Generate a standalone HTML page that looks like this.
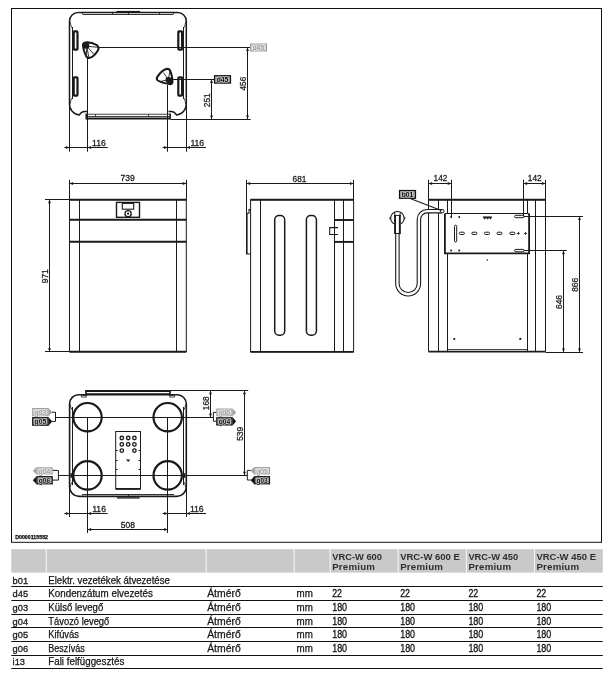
<!DOCTYPE html>
<html lang="hu">
<head>
<meta charset="utf-8">
<title>VRC-W Premium – méretek</title>
<style>
html,body{margin:0;padding:0;background:#fff;}
body{width:614px;height:680px;overflow:hidden;font-family:"Liberation Sans",sans-serif;}
svg{display:block;font-family:"Liberation Sans",sans-serif;will-change:transform;opacity:0.999;}
svg text{white-space:pre;}
</style>
</head>
<body>
<svg width="614" height="680" viewBox="0 0 614 680">
<rect x="0" y="0" width="614" height="680" fill="#fff"/>
<rect x="11.5" y="8.5" width="590" height="533.8" stroke="#111" stroke-width="1.0" fill="none" />
<path d="M78.3 12.4 H177.5 A8.8 8.8 0 0 1 186.3 21.2 V103.5 A11 11 0 0 1 176.5 115.0 Q174.5 111.4 171 111.5 H168.5" stroke="#1a1a1a" stroke-width="1.5" fill="none" />
<path d="M78.3 12.4 A8.8 8.8 0 0 0 69.5 21.2 V103.5 A11 11 0 0 0 79.3 115.0 Q81.3 111.4 84.8 111.5 H87.3" stroke="#1a1a1a" stroke-width="1.5" fill="none" />
<line x1="72.5" y1="27" x2="72.5" y2="99" stroke="#1a1a1a" stroke-width="1.0" />
<line x1="183.5" y1="27" x2="183.5" y2="99" stroke="#1a1a1a" stroke-width="1.0" />
<path d="M70 21.5 Q70.6 26 72.6 28.8" stroke="#1a1a1a" stroke-width="0.8" fill="none" />
<path d="M185.8 21.5 Q185.2 26 183.3 28.8" stroke="#1a1a1a" stroke-width="0.8" fill="none" />
<path d="M70 104 Q70.6 100 72.6 97.2" stroke="#1a1a1a" stroke-width="0.8" fill="none" />
<path d="M185.8 104 Q185.2 100 183.3 97.2" stroke="#1a1a1a" stroke-width="0.8" fill="none" />
<line x1="83" y1="14.5" x2="173" y2="14.5" stroke="#1a1a1a" stroke-width="0.9" />
<line x1="116.5" y1="11.5" x2="140" y2="11.5" stroke="#1a1a1a" stroke-width="1.2" />
<line x1="82.5" y1="12.4" x2="82.5" y2="14.4" stroke="#1a1a1a" stroke-width="0.9" />
<line x1="112.5" y1="12.4" x2="112.5" y2="14.4" stroke="#1a1a1a" stroke-width="0.9" />
<line x1="128.5" y1="12.4" x2="128.5" y2="14.4" stroke="#1a1a1a" stroke-width="0.9" />
<line x1="159.5" y1="12.4" x2="159.5" y2="14.4" stroke="#1a1a1a" stroke-width="0.9" />
<line x1="173.5" y1="12.4" x2="173.5" y2="14.4" stroke="#1a1a1a" stroke-width="0.9" />
<rect x="73.7" y="31.4" width="3.8" height="18.2" stroke="#1a1a1a" stroke-width="2.2" fill="none" rx="0.8"/>
<rect x="73.7" y="77.4" width="3.8" height="18.2" stroke="#1a1a1a" stroke-width="2.2" fill="none" rx="0.8"/>
<rect x="178.3" y="31.4" width="3.8" height="18.2" stroke="#1a1a1a" stroke-width="2.2" fill="none" rx="0.8"/>
<rect x="178.3" y="77.4" width="3.8" height="18.2" stroke="#1a1a1a" stroke-width="2.2" fill="none" rx="0.8"/>
<rect x="86.2" y="114.2" width="84" height="2.3" stroke="#1a1a1a" stroke-width="0.8" fill="none" />
<line x1="85.8" y1="118.4" x2="170.6" y2="118.4" stroke="#1a1a1a" stroke-width="2.0" />
<line x1="86.3" y1="113.6" x2="86.3" y2="119.3" stroke="#1a1a1a" stroke-width="1.5" />
<line x1="170.1" y1="113.6" x2="170.1" y2="119.3" stroke="#1a1a1a" stroke-width="1.5" />
<line x1="148.5" y1="114.2" x2="148.5" y2="116.5" stroke="#1a1a1a" stroke-width="0.8" />
<line x1="95.5" y1="114.2" x2="95.5" y2="116.5" stroke="#1a1a1a" stroke-width="0.8" />
<path d="M84.4 42.6 Q90 41.3 97.0 45.2 Q99.6 47.3 98.0 50.3 Q94.3 56.6 89.8 57.9 Q87.0 58.6 85.9 55.6 Q82.6 48 83.0 44.4 Q83.2 43 84.4 42.6 Z" stroke="#1a1a1a" stroke-width="2.0" fill="none" />
<path d="M83.6 43.6 Q86 42.4 89.3 43.3 L87.5 47.5 L84 48.6 Z" stroke="#1a1a1a" stroke-width="0.4" fill="#1a1a1a" />
<circle cx="86.6" cy="46.0" r="2.7" stroke="#1a1a1a" stroke-width="0" fill="#1a1a1a"/>
<line x1="86.8" y1="46.2" x2="97.5" y2="47.3" stroke="#1a1a1a" stroke-width="0.9" />
<line x1="86.8" y1="46.2" x2="93.8" y2="54.3" stroke="#1a1a1a" stroke-width="0.9" />
<line x1="86.8" y1="46.2" x2="88.8" y2="57.3" stroke="#1a1a1a" stroke-width="0.9" />
<line x1="86.8" y1="46.2" x2="86.3" y2="55" stroke="#1a1a1a" stroke-width="0.9" />
<path d="M167.2 68.7 Q169.8 68.7 170.8 72.2 Q172.9 79 172.4 82.3 Q172 84.6 169.4 84.1 Q162 82.9 157.8 80.5 Q155.9 79.1 157.5 76.6 Q161.6 70.1 167.2 68.7 Z" stroke="#1a1a1a" stroke-width="2.0" fill="none" />
<path d="M168 78 L172 77.5 Q172.8 80 172.2 83 Q170 84.3 167.5 83.6 Z" stroke="#1a1a1a" stroke-width="0.4" fill="#1a1a1a" />
<circle cx="168.3" cy="79.9" r="2.8" stroke="#1a1a1a" stroke-width="0" fill="#1a1a1a"/>
<line x1="168.3" y1="79.6" x2="163.3" y2="72.5" stroke="#1a1a1a" stroke-width="0.9" />
<line x1="168.3" y1="79.6" x2="170" y2="70.8" stroke="#1a1a1a" stroke-width="0.9" />
<line x1="168.3" y1="79.6" x2="160.5" y2="81.5" stroke="#1a1a1a" stroke-width="0.9" />
<line x1="99" y1="47.5" x2="250.4" y2="47.5" stroke="#1a1a1a" stroke-width="1.0" />
<line x1="173" y1="79.5" x2="214.6" y2="79.5" stroke="#1a1a1a" stroke-width="1.0" />
<line x1="87.5" y1="58.5" x2="87.5" y2="151.7" stroke="#1a1a1a" stroke-width="1.0" />
<line x1="167.5" y1="85" x2="167.5" y2="151.7" stroke="#1a1a1a" stroke-width="1.0" />
<line x1="69.5" y1="104" x2="69.5" y2="151.7" stroke="#1a1a1a" stroke-width="1.0" />
<line x1="186.5" y1="104" x2="186.5" y2="151.7" stroke="#1a1a1a" stroke-width="1.0" />
<line x1="170.6" y1="119.5" x2="250.7" y2="119.5" stroke="#1a1a1a" stroke-width="1.0" />
<line x1="64.3" y1="147.5" x2="107.8" y2="147.5" stroke="#1a1a1a" stroke-width="1.0" />
<polygon points="69.5,147.5 65.9,146.05 65.9,148.95" fill="#1a1a1a"/>
<polygon points="87.5,147.5 91.1,146.05 91.1,148.95" fill="#1a1a1a"/>
<text x="92.1" y="145.6" font-size="9.0" text-anchor="start" fill="#1e1e1e" stroke="#1e1e1e" stroke-width="0.3" textLength="13.8" lengthAdjust="spacingAndGlyphs">116</text>
<line x1="162.6" y1="147.5" x2="206" y2="147.5" stroke="#1a1a1a" stroke-width="1.0" />
<polygon points="167.7,147.5 164.1,146.05 164.1,148.95" fill="#1a1a1a"/>
<polygon points="186.4,147.5 190.0,146.05 190.0,148.95" fill="#1a1a1a"/>
<text x="190.4" y="145.6" font-size="9.0" text-anchor="start" fill="#1e1e1e" stroke="#1e1e1e" stroke-width="0.3" textLength="13.8" lengthAdjust="spacingAndGlyphs">116</text>
<line x1="211.5" y1="79.3" x2="211.5" y2="119.1" stroke="#1a1a1a" stroke-width="1.0" />
<polygon points="211.5,79.3 210.05,82.89999999999999 212.95,82.89999999999999" fill="#1a1a1a"/>
<polygon points="211.5,119.1 210.05,115.5 212.95,115.5" fill="#1a1a1a"/>
<text x="210.4" y="107.2" font-size="9.0" text-anchor="start" fill="#1e1e1e" stroke="#1e1e1e" stroke-width="0.3" textLength="13.8" lengthAdjust="spacingAndGlyphs" transform="rotate(-90 210.4 107.2)">251</text>
<line x1="247.5" y1="47.3" x2="247.5" y2="119.1" stroke="#1a1a1a" stroke-width="1.0" />
<polygon points="247.5,47.3 246.05,50.9 248.95,50.9" fill="#1a1a1a"/>
<polygon points="247.5,119.1 246.05,115.5 248.95,115.5" fill="#1a1a1a"/>
<text x="245.6" y="90.5" font-size="9.0" text-anchor="start" fill="#1e1e1e" stroke="#1e1e1e" stroke-width="0.3" textLength="13.8" lengthAdjust="spacingAndGlyphs" transform="rotate(-90 245.6 90.5)">456</text>
<rect x="250.5" y="44.0" width="16" height="7" stroke="#9e9e9e" stroke-width="1.0" fill="#d6d6d6" />
<text x="252.7" y="50.35" font-size="7.9" text-anchor="start" fill="#f0f0f0" stroke="#f0f0f0" stroke-width="1.1" stroke-linejoin="round" textLength="11.6" lengthAdjust="spacingAndGlyphs">d45</text>
<text x="252.7" y="50.35" font-size="7.9" text-anchor="start" fill="#8e8e8e" stroke="#8e8e8e" stroke-width="0.1" textLength="11.6" lengthAdjust="spacingAndGlyphs">d45</text>
<rect x="214.5" y="75.7" width="16" height="7.4" stroke="#111" stroke-width="1.2" fill="#a8a8a8" />
<text x="216.7" y="82.25" font-size="7.9" text-anchor="start" fill="#d0d0d0" stroke="#d0d0d0" stroke-width="1.1" stroke-linejoin="round" textLength="11.6" lengthAdjust="spacingAndGlyphs" font-weight="bold">d45</text>
<text x="216.7" y="82.25" font-size="7.9" text-anchor="start" fill="#0a0a0a" stroke="#0a0a0a" stroke-width="0" textLength="11.6" lengthAdjust="spacingAndGlyphs" font-weight="bold">d45</text>
<rect x="69.5" y="199.6" width="116.8" height="152.0" stroke="#1a1a1a" stroke-width="1.0" fill="none" />
<line x1="69.5" y1="199.7" x2="186.3" y2="199.7" stroke="#1a1a1a" stroke-width="1.9" />
<line x1="69.5" y1="351.8" x2="186.3" y2="351.8" stroke="#1a1a1a" stroke-width="1.9" />
<line x1="69.5" y1="219.8" x2="186.3" y2="219.8" stroke="#1a1a1a" stroke-width="1.9" />
<line x1="69.5" y1="241.8" x2="186.3" y2="241.8" stroke="#1a1a1a" stroke-width="1.9" />
<line x1="79.5" y1="199.6" x2="79.5" y2="351.8" stroke="#1a1a1a" stroke-width="1.05" />
<line x1="176.5" y1="199.6" x2="176.5" y2="351.8" stroke="#1a1a1a" stroke-width="1.05" />
<rect x="116.5" y="202.4" width="23.0" height="14.9" stroke="#1a1a1a" stroke-width="1.4" fill="none" />
<rect x="122.3" y="203.4" width="11.4" height="5.8" stroke="#1a1a1a" stroke-width="1.1" fill="none" />
<circle cx="128.1" cy="213.7" r="3.1" stroke="#1a1a1a" stroke-width="1.3" fill="none"/>
<circle cx="128.1" cy="213.7" r="1.1" stroke="#1a1a1a" stroke-width="0" fill="#1a1a1a"/>
<line x1="69.5" y1="179.8" x2="69.5" y2="199.6" stroke="#1a1a1a" stroke-width="1.05" />
<line x1="186.5" y1="179.8" x2="186.5" y2="199.6" stroke="#1a1a1a" stroke-width="1.05" />
<line x1="69.5" y1="183.5" x2="186.3" y2="183.5" stroke="#1a1a1a" stroke-width="1.05" />
<polygon points="69.5,183.5 73.1,182.05 73.1,184.95" fill="#1a1a1a"/>
<polygon points="186.3,183.5 182.70000000000002,182.05 182.70000000000002,184.95" fill="#1a1a1a"/>
<text x="120.6" y="181.2" font-size="9.0" text-anchor="start" fill="#1e1e1e" stroke="#1e1e1e" stroke-width="0.3" textLength="14.2" lengthAdjust="spacingAndGlyphs">739</text>
<line x1="45" y1="199.5" x2="69.5" y2="199.5" stroke="#1a1a1a" stroke-width="1.05" />
<line x1="45" y1="351.5" x2="69.5" y2="351.5" stroke="#1a1a1a" stroke-width="1.05" />
<line x1="49.5" y1="199.6" x2="49.5" y2="351.8" stroke="#1a1a1a" stroke-width="1.05" />
<polygon points="49.5,199.6 48.05,203.2 50.95,203.2" fill="#1a1a1a"/>
<polygon points="49.5,351.8 48.05,348.2 50.95,348.2" fill="#1a1a1a"/>
<text x="48.0" y="283.2" font-size="9.0" text-anchor="start" fill="#1e1e1e" stroke="#1e1e1e" stroke-width="0.3" textLength="14.0" lengthAdjust="spacingAndGlyphs" transform="rotate(-90 48.0 283.2)">971</text>
<rect x="250.6" y="199.7" width="103" height="152.1" stroke="#1a1a1a" stroke-width="1.0" fill="none" />
<line x1="250.6" y1="199.7" x2="353.6" y2="199.7" stroke="#1a1a1a" stroke-width="1.9" />
<line x1="250.6" y1="351.9" x2="353.6" y2="351.9" stroke="#1a1a1a" stroke-width="1.9" />
<line x1="260.5" y1="199.7" x2="260.5" y2="351.9" stroke="#1a1a1a" stroke-width="1.05" />
<line x1="334.5" y1="199.7" x2="334.5" y2="351.9" stroke="#1a1a1a" stroke-width="1.05" />
<line x1="343.5" y1="199.7" x2="343.5" y2="351.9" stroke="#1a1a1a" stroke-width="1.05" />
<line x1="334.6" y1="220.0" x2="353.6" y2="220.0" stroke="#1a1a1a" stroke-width="1.9" />
<line x1="334.6" y1="241.9" x2="353.6" y2="241.9" stroke="#1a1a1a" stroke-width="1.9" />
<path d="M250.6 209.6 H249 V213.2 H246.6 V253.9 H250.6" stroke="#1a1a1a" stroke-width="1.05" fill="none" />
<line x1="246.9" y1="213.2" x2="246.9" y2="253.9" stroke="#1a1a1a" stroke-width="1.3" />
<rect x="274.7" y="215.4" width="10.0" height="119.8" stroke="#1a1a1a" stroke-width="1.5" fill="none" rx="4.3" ry="4.3"/>
<rect x="306.4" y="215.4" width="10.0" height="119.8" stroke="#1a1a1a" stroke-width="1.5" fill="none" rx="4.3" ry="4.3"/>
<path d="M338 227.6 H329.7 V234.4 H338" stroke="#1a1a1a" stroke-width="1.05" fill="none" />
<line x1="246.5" y1="179.8" x2="246.5" y2="213" stroke="#1a1a1a" stroke-width="1.05" />
<line x1="353.5" y1="179.8" x2="353.5" y2="199.7" stroke="#1a1a1a" stroke-width="1.05" />
<line x1="246.5" y1="183.5" x2="353.6" y2="183.5" stroke="#1a1a1a" stroke-width="1.05" />
<polygon points="246.5,183.5 250.1,182.05 250.1,184.95" fill="#1a1a1a"/>
<polygon points="353.6,183.5 350.0,182.05 350.0,184.95" fill="#1a1a1a"/>
<text x="292.6" y="181.5" font-size="9.0" text-anchor="start" fill="#1e1e1e" stroke="#1e1e1e" stroke-width="0.3" textLength="13.8" lengthAdjust="spacingAndGlyphs">681</text>
<path d="M428.5 351.6 V199.7 H545.5 V351.6" stroke="#1a1a1a" stroke-width="1.0" fill="none" />
<line x1="428.5" y1="199.7" x2="545.5" y2="199.7" stroke="#1a1a1a" stroke-width="1.9" />
<line x1="428.5" y1="351.7" x2="545.5" y2="351.7" stroke="#1a1a1a" stroke-width="1.7" />
<line x1="438.5" y1="199.7" x2="438.5" y2="351.6" stroke="#1a1a1a" stroke-width="1.05" />
<line x1="447.5" y1="199.7" x2="447.5" y2="351.6" stroke="#1a1a1a" stroke-width="1.05" />
<line x1="527.5" y1="199.7" x2="527.5" y2="351.6" stroke="#1a1a1a" stroke-width="1.05" />
<line x1="535.5" y1="199.7" x2="535.5" y2="351.6" stroke="#1a1a1a" stroke-width="1.05" />
<line x1="447.4" y1="349.5" x2="527.4" y2="349.5" stroke="#1a1a1a" stroke-width="0.8" />
<rect x="444.9" y="213.4" width="84.2" height="40" stroke="#1a1a1a" stroke-width="0" fill="#fff" />
<path d="M444.9 213.4 V253.4 H529.1 V213.4" stroke="#1a1a1a" stroke-width="1.8" fill="none" />
<line x1="444.9" y1="213.5" x2="529.1" y2="213.5" stroke="#1a1a1a" stroke-width="1.05" />
<circle cx="451.1" cy="217" r="1.0" stroke="#1a1a1a" stroke-width="0" fill="#1a1a1a"/>
<circle cx="459.2" cy="217" r="1.0" stroke="#1a1a1a" stroke-width="0" fill="#1a1a1a"/>
<circle cx="451.1" cy="250.5" r="1.0" stroke="#1a1a1a" stroke-width="0" fill="#1a1a1a"/>
<circle cx="459.2" cy="250.5" r="1.0" stroke="#1a1a1a" stroke-width="0" fill="#1a1a1a"/>
<rect x="454.5" y="225.2" width="2.2" height="16.8" stroke="#1a1a1a" stroke-width="1.0" fill="none" rx="1.1"/>
<rect x="459.4" y="232.2" width="5" height="2.3" stroke="#1a1a1a" stroke-width="1.0" fill="none" rx="1.1"/>
<rect x="471.9" y="232.2" width="5" height="2.3" stroke="#1a1a1a" stroke-width="1.0" fill="none" rx="1.1"/>
<rect x="484.5" y="232.2" width="5" height="2.3" stroke="#1a1a1a" stroke-width="1.0" fill="none" rx="1.1"/>
<rect x="497.0" y="232.2" width="5" height="2.3" stroke="#1a1a1a" stroke-width="1.0" fill="none" rx="1.1"/>
<rect x="509.9" y="232.2" width="5" height="2.3" stroke="#1a1a1a" stroke-width="1.0" fill="none" rx="1.1"/>
<line x1="516.9" y1="233.5" x2="519.6999999999999" y2="233.5" stroke="#1a1a1a" stroke-width="0.9" />
<line x1="518.5" y1="231.9" x2="518.5" y2="234.7" stroke="#1a1a1a" stroke-width="0.9" />
<line x1="524.1" y1="233.5" x2="526.9" y2="233.5" stroke="#1a1a1a" stroke-width="0.9" />
<line x1="525.5" y1="231.9" x2="525.5" y2="234.7" stroke="#1a1a1a" stroke-width="0.9" />
<path d="M483 216.8 H491.8 L490.5 219.3 L489 217.4 L487.6 219.3 L486.2 217.4 L484.6 219.3 Z" stroke="#1a1a1a" stroke-width="0.6" fill="#1a1a1a" />
<rect x="514.6" y="215.3" width="9.6" height="2.4" stroke="#1a1a1a" stroke-width="1.0" fill="none" rx="1.2"/>
<rect x="514.6" y="249.4" width="9.6" height="2.4" stroke="#1a1a1a" stroke-width="1.0" fill="none" rx="1.2"/>
<circle cx="487.3" cy="260" r="0.8" stroke="#1a1a1a" stroke-width="0" fill="#1a1a1a"/>
<circle cx="454.3" cy="339" r="1.1" stroke="#1a1a1a" stroke-width="0" fill="#1a1a1a"/>
<circle cx="520.3" cy="338.9" r="1.1" stroke="#1a1a1a" stroke-width="0" fill="#1a1a1a"/>
<line x1="428.5" y1="179.8" x2="428.5" y2="199.7" stroke="#1a1a1a" stroke-width="1.05" />
<line x1="451.5" y1="179.8" x2="451.5" y2="217" stroke="#1a1a1a" stroke-width="1.05" />
<line x1="428.5" y1="183.5" x2="451.3" y2="183.5" stroke="#1a1a1a" stroke-width="1.05" />
<polygon points="428.5,183.5 432.1,182.05 432.1,184.95" fill="#1a1a1a"/>
<polygon points="451.3,183.5 447.7,182.05 447.7,184.95" fill="#1a1a1a"/>
<text x="433.6" y="181.3" font-size="9.0" text-anchor="start" fill="#1e1e1e" stroke="#1e1e1e" stroke-width="0.3" textLength="13.8" lengthAdjust="spacingAndGlyphs">142</text>
<line x1="523.5" y1="179.8" x2="523.5" y2="216.4" stroke="#1a1a1a" stroke-width="1.05" />
<line x1="545.5" y1="179.8" x2="545.5" y2="199.7" stroke="#1a1a1a" stroke-width="1.05" />
<line x1="523.5" y1="183.5" x2="545.5" y2="183.5" stroke="#1a1a1a" stroke-width="1.05" />
<polygon points="523.5,183.5 527.1,182.05 527.1,184.95" fill="#1a1a1a"/>
<polygon points="545.5,183.5 541.9,182.05 541.9,184.95" fill="#1a1a1a"/>
<text x="527.8" y="181.3" font-size="9.0" text-anchor="start" fill="#1e1e1e" stroke="#1e1e1e" stroke-width="0.3" textLength="13.8" lengthAdjust="spacingAndGlyphs">142</text>
<line x1="524" y1="216.5" x2="583" y2="216.5" stroke="#1a1a1a" stroke-width="1.05" />
<line x1="524" y1="250.5" x2="566.8" y2="250.5" stroke="#1a1a1a" stroke-width="1.05" />
<line x1="545.5" y1="352.5" x2="583" y2="352.5" stroke="#1a1a1a" stroke-width="1.05" />
<line x1="579.5" y1="216.5" x2="579.5" y2="352.1" stroke="#1a1a1a" stroke-width="1.05" />
<polygon points="579.5,216.5 578.05,220.1 580.95,220.1" fill="#1a1a1a"/>
<polygon points="579.5,352.1 578.05,348.5 580.95,348.5" fill="#1a1a1a"/>
<line x1="563.5" y1="250.6" x2="563.5" y2="352.1" stroke="#1a1a1a" stroke-width="1.05" />
<polygon points="563.5,250.6 562.05,254.2 564.95,254.2" fill="#1a1a1a"/>
<polygon points="563.5,352.1 562.05,348.5 564.95,348.5" fill="#1a1a1a"/>
<text x="578.0" y="291.8" font-size="9.0" text-anchor="start" fill="#1e1e1e" stroke="#1e1e1e" stroke-width="0.3" textLength="14" lengthAdjust="spacingAndGlyphs" transform="rotate(-90 578.0 291.8)">866</text>
<text x="562.0" y="309.0" font-size="9.0" text-anchor="start" fill="#1e1e1e" stroke="#1e1e1e" stroke-width="0.3" textLength="14" lengthAdjust="spacingAndGlyphs" transform="rotate(-90 562.0 309.0)">646</text>
<path d="M442 211.2 H427.2 A8.3 8.3 0 0 0 418.9 219.5 V283.5 A10.75 10.75 0 0 1 397.4 283.5 V233.6" stroke="#1a1a1a" stroke-width="4.5" fill="none" />
<path d="M442 211.2 H427.2 A8.3 8.3 0 0 0 418.9 219.5 V283.5 A10.75 10.75 0 0 1 397.4 283.5 V233.6" stroke="#fff" stroke-width="2.3" fill="none" />
<circle cx="442.2" cy="211.1" r="1.8" stroke="#1a1a1a" stroke-width="1.0" fill="#fff"/>
<circle cx="397.4" cy="218.2" r="6.7" stroke="#1a1a1a" stroke-width="1.05" fill="none"/>
<path d="M390.8 217.2 H389.9 V219.2 H390.8" stroke="#1a1a1a" stroke-width="0.8" fill="none" />
<path d="M404.0 217.2 H404.9 V219.2 H404.0" stroke="#1a1a1a" stroke-width="0.8" fill="none" />
<rect x="394.1" y="214.7" width="6.7" height="18.9" stroke="#1a1a1a" stroke-width="0" fill="#fff" />
<rect x="394.1" y="214.7" width="1.9" height="18.9" stroke="#1a1a1a" stroke-width="0" fill="#1a1a1a" />
<rect x="398.9" y="214.7" width="1.9" height="18.9" stroke="#1a1a1a" stroke-width="0" fill="#1a1a1a" />
<line x1="394.1" y1="215.5" x2="400.8" y2="215.5" stroke="#1a1a1a" stroke-width="0.9" />
<line x1="394.1" y1="233.5" x2="400.8" y2="233.5" stroke="#1a1a1a" stroke-width="1.1" />
<line x1="394.3" y1="212.2" x2="395.0" y2="214.8" stroke="#1a1a1a" stroke-width="0.9" />
<line x1="400.6" y1="212.2" x2="399.9" y2="214.8" stroke="#1a1a1a" stroke-width="0.9" />
<line x1="410.2" y1="198.4" x2="441.3" y2="210.4" stroke="#1a1a1a" stroke-width="1.05" />
<rect x="399.5" y="190.5" width="16" height="7.800000000000001" stroke="#111" stroke-width="1.2" fill="#a8a8a8" />
<text x="401.7" y="197.25" font-size="7.9" text-anchor="start" fill="#d0d0d0" stroke="#d0d0d0" stroke-width="1.1" stroke-linejoin="round" textLength="11.6" lengthAdjust="spacingAndGlyphs" font-weight="bold">b01</text>
<text x="401.7" y="197.25" font-size="7.9" text-anchor="start" fill="#0a0a0a" stroke="#0a0a0a" stroke-width="0" textLength="11.6" lengthAdjust="spacingAndGlyphs" font-weight="bold">b01</text>
<path d="M170.3 394.8 H177.4 A9 9 0 0 1 186.3 403.8 V487 A9.5 9.5 0 0 1 176.8 496.4 H79 A9.5 9.5 0 0 1 69.6 487 V403.8 A9 9 0 0 1 78.6 394.8 H85.6" stroke="#1a1a1a" stroke-width="1.6" fill="none" />
<line x1="72.5" y1="407" x2="72.5" y2="485" stroke="#1a1a1a" stroke-width="1.0" />
<line x1="183.5" y1="407" x2="183.5" y2="485" stroke="#1a1a1a" stroke-width="1.0" />
<path d="M70 404.2 Q70.6 408 72.6 410.3" stroke="#1a1a1a" stroke-width="0.8" fill="none" />
<path d="M185.8 404.2 Q185.2 408 183.6 410.3" stroke="#1a1a1a" stroke-width="0.8" fill="none" />
<path d="M70 487.5 Q70.6 484 72.6 481.5" stroke="#1a1a1a" stroke-width="0.8" fill="none" />
<path d="M185.8 487.5 Q185.2 484 183.6 481.5" stroke="#1a1a1a" stroke-width="0.8" fill="none" />
<line x1="85.4" y1="391.1" x2="170.6" y2="391.1" stroke="#1a1a1a" stroke-width="2.0" />
<line x1="85.4" y1="394.4" x2="170.6" y2="394.4" stroke="#1a1a1a" stroke-width="2.3" />
<line x1="86.0" y1="390.2" x2="86.0" y2="395.4" stroke="#1a1a1a" stroke-width="1.6" />
<line x1="170.0" y1="390.2" x2="170.0" y2="395.4" stroke="#1a1a1a" stroke-width="1.6" />
<rect x="81.6" y="395.4" width="4.6" height="1.6" stroke="#1a1a1a" stroke-width="0.8" fill="#fff" />
<rect x="169.8" y="395.4" width="4.6" height="1.6" stroke="#1a1a1a" stroke-width="0.8" fill="#fff" />
<line x1="170.4" y1="390.5" x2="248.2" y2="390.5" stroke="#1a1a1a" stroke-width="1.0" />
<line x1="82" y1="494.5" x2="174" y2="494.5" stroke="#1a1a1a" stroke-width="0.9" />
<line x1="117" y1="497.9" x2="139.6" y2="497.9" stroke="#1a1a1a" stroke-width="1.3" />
<line x1="128.5" y1="494.6" x2="128.5" y2="497.6" stroke="#1a1a1a" stroke-width="0.9" />
<circle cx="87.5" cy="417.2" r="14.2" stroke="#1a1a1a" stroke-width="2.2" fill="none"/>
<circle cx="167.7" cy="417.2" r="14.2" stroke="#1a1a1a" stroke-width="2.2" fill="none"/>
<circle cx="87.5" cy="475.4" r="14.2" stroke="#1a1a1a" stroke-width="2.2" fill="none"/>
<circle cx="167.7" cy="475.4" r="14.2" stroke="#1a1a1a" stroke-width="2.2" fill="none"/>
<rect x="70.6" y="473.2" width="2.2" height="4.6" stroke="#1a1a1a" stroke-width="0" fill="#1a1a1a" />
<rect x="183.2" y="473.2" width="2.2" height="4.6" stroke="#1a1a1a" stroke-width="0" fill="#1a1a1a" />
<rect x="115.7" y="431.5" width="24.8" height="57.4" stroke="#1a1a1a" stroke-width="1.0" fill="none" />
<line x1="115.7" y1="488.9" x2="140.5" y2="488.9" stroke="#1a1a1a" stroke-width="1.8" />
<circle cx="121.8" cy="438.0" r="1.75" stroke="#1a1a1a" stroke-width="1.3" fill="none"/>
<circle cx="128.2" cy="438.0" r="1.75" stroke="#1a1a1a" stroke-width="1.3" fill="none"/>
<circle cx="134.4" cy="438.0" r="1.75" stroke="#1a1a1a" stroke-width="1.3" fill="none"/>
<circle cx="121.8" cy="444.4" r="1.75" stroke="#1a1a1a" stroke-width="1.3" fill="none"/>
<circle cx="128.2" cy="444.4" r="1.75" stroke="#1a1a1a" stroke-width="1.3" fill="none"/>
<circle cx="134.4" cy="444.4" r="1.75" stroke="#1a1a1a" stroke-width="1.3" fill="none"/>
<circle cx="121.8" cy="450.6" r="1.75" stroke="#1a1a1a" stroke-width="1.3" fill="none"/>
<circle cx="134.4" cy="450.6" r="1.75" stroke="#1a1a1a" stroke-width="1.3" fill="none"/>
<polygon points="126,459.4 130.4,459.4 128.2,461.9" fill="#1a1a1a"/>
<line x1="115.7" y1="450.5" x2="117.6" y2="450.5" stroke="#1a1a1a" stroke-width="1.0" />
<line x1="138.6" y1="450.5" x2="140.5" y2="450.5" stroke="#1a1a1a" stroke-width="1.0" />
<line x1="115.7" y1="460.5" x2="117.6" y2="460.5" stroke="#1a1a1a" stroke-width="1.0" />
<line x1="138.6" y1="460.5" x2="140.5" y2="460.5" stroke="#1a1a1a" stroke-width="1.0" />
<line x1="115.7" y1="469.5" x2="117.6" y2="469.5" stroke="#1a1a1a" stroke-width="1.0" />
<line x1="138.6" y1="469.5" x2="140.5" y2="469.5" stroke="#1a1a1a" stroke-width="1.0" />
<line x1="55.5" y1="417.5" x2="213.4" y2="417.5" stroke="#1a1a1a" stroke-width="1.05" />
<line x1="58.4" y1="475.5" x2="247.3" y2="475.5" stroke="#1a1a1a" stroke-width="1.05" />
<line x1="87.5" y1="417.2" x2="87.5" y2="533" stroke="#1a1a1a" stroke-width="1.05" />
<line x1="167.5" y1="417.2" x2="167.5" y2="533" stroke="#1a1a1a" stroke-width="1.05" />
<line x1="69.5" y1="487" x2="69.5" y2="517" stroke="#1a1a1a" stroke-width="1.05" />
<line x1="186.5" y1="487" x2="186.5" y2="517" stroke="#1a1a1a" stroke-width="1.05" />
<line x1="64.3" y1="513.5" x2="107.6" y2="513.5" stroke="#1a1a1a" stroke-width="1.05" />
<polygon points="69.5,513.5 65.9,512.05 65.9,514.95" fill="#1a1a1a"/>
<polygon points="87.5,513.5 91.1,512.05 91.1,514.95" fill="#1a1a1a"/>
<text x="92.2" y="511.7" font-size="9.0" text-anchor="start" fill="#1e1e1e" stroke="#1e1e1e" stroke-width="0.3" textLength="13.8" lengthAdjust="spacingAndGlyphs">116</text>
<line x1="162.6" y1="513.5" x2="206" y2="513.5" stroke="#1a1a1a" stroke-width="1.05" />
<polygon points="167.8,513.5 164.20000000000002,512.05 164.20000000000002,514.95" fill="#1a1a1a"/>
<polygon points="186.4,513.5 190.0,512.05 190.0,514.95" fill="#1a1a1a"/>
<text x="189.9" y="511.7" font-size="9.0" text-anchor="start" fill="#1e1e1e" stroke="#1e1e1e" stroke-width="0.3" textLength="13.8" lengthAdjust="spacingAndGlyphs">116</text>
<line x1="87.5" y1="529.5" x2="167.8" y2="529.5" stroke="#1a1a1a" stroke-width="1.05" />
<polygon points="87.5,529.5 91.1,528.05 91.1,530.95" fill="#1a1a1a"/>
<polygon points="167.8,529.5 164.20000000000002,528.05 164.20000000000002,530.95" fill="#1a1a1a"/>
<text x="120.8" y="527.8" font-size="9.0" text-anchor="start" fill="#1e1e1e" stroke="#1e1e1e" stroke-width="0.3" textLength="14.2" lengthAdjust="spacingAndGlyphs">508</text>
<line x1="210.5" y1="390.6" x2="210.5" y2="417.2" stroke="#1a1a1a" stroke-width="1.05" />
<polygon points="210.5,390.6 209.05,394.20000000000005 211.95,394.20000000000005" fill="#1a1a1a"/>
<polygon points="210.5,417.2 209.05,413.59999999999997 211.95,413.59999999999997" fill="#1a1a1a"/>
<text x="209.0" y="410.2" font-size="9.0" text-anchor="start" fill="#1e1e1e" stroke="#1e1e1e" stroke-width="0.3" textLength="13.8" lengthAdjust="spacingAndGlyphs" transform="rotate(-90 209.0 410.2)">168</text>
<line x1="244.5" y1="390.6" x2="244.5" y2="475.3" stroke="#1a1a1a" stroke-width="1.05" />
<polygon points="244.5,390.6 243.05,394.20000000000005 245.95,394.20000000000005" fill="#1a1a1a"/>
<polygon points="244.5,475.3 243.05,471.7 245.95,471.7" fill="#1a1a1a"/>
<text x="243.2" y="440.8" font-size="9.0" text-anchor="start" fill="#1e1e1e" stroke="#1e1e1e" stroke-width="0.3" textLength="14.0" lengthAdjust="spacingAndGlyphs" transform="rotate(-90 243.2 440.8)">539</text>
<rect x="32.7" y="408.5" width="15.399999999999999" height="7.300000000000001" stroke="#a0a0a0" stroke-width="1.0" fill="#d6d6d6" />
<polygon points="48.6,408.0 52.1,412.15 48.6,416.3" fill="#a0a0a0"/>
<text x="34.6" y="415.0" font-size="7.9" text-anchor="start" fill="#f0f0f0" stroke="#f0f0f0" stroke-width="1.1" stroke-linejoin="round" textLength="11.599999999999998" lengthAdjust="spacingAndGlyphs">g03</text>
<text x="34.6" y="415.0" font-size="7.9" text-anchor="start" fill="#8e8e8e" stroke="#8e8e8e" stroke-width="0.1" textLength="11.599999999999998" lengthAdjust="spacingAndGlyphs">g03</text>
<rect x="32.7" y="417.7" width="15.399999999999999" height="7.5" stroke="#111" stroke-width="1.2" fill="#a8a8a8" />
<polygon points="48.6,417.2 52.1,421.45 48.6,425.7" fill="#111"/>
<text x="34.6" y="424.3" font-size="7.9" text-anchor="start" fill="#d0d0d0" stroke="#d0d0d0" stroke-width="1.1" stroke-linejoin="round" textLength="11.599999999999998" lengthAdjust="spacingAndGlyphs" font-weight="bold">g05</text>
<text x="34.6" y="424.3" font-size="7.9" text-anchor="start" fill="#111" stroke="#111" stroke-width="0" textLength="11.599999999999998" lengthAdjust="spacingAndGlyphs" font-weight="bold">g05</text>
<path d="M51.9 412.2 H55.5 V421.4 H51.9" stroke="#1a1a1a" stroke-width="1.0" fill="none" />
<rect x="36.9" y="467.8" width="15.300000000000004" height="6.2" stroke="#a0a0a0" stroke-width="1.0" fill="#d6d6d6" />
<polygon points="36.4,467.3 32.9,470.90000000000003 36.4,474.5" fill="#a0a0a0"/>
<text x="38.8" y="473.75" font-size="7.9" text-anchor="start" fill="#f0f0f0" stroke="#f0f0f0" stroke-width="1.1" stroke-linejoin="round" textLength="11.500000000000004" lengthAdjust="spacingAndGlyphs">g04</text>
<text x="38.8" y="473.75" font-size="7.9" text-anchor="start" fill="#8e8e8e" stroke="#8e8e8e" stroke-width="0.1" textLength="11.500000000000004" lengthAdjust="spacingAndGlyphs">g04</text>
<rect x="36.9" y="476.7" width="15.300000000000004" height="7.1" stroke="#111" stroke-width="1.2" fill="#a8a8a8" />
<polygon points="36.4,476.2 32.9,480.25 36.4,484.3" fill="#111"/>
<text x="38.8" y="483.09999999999997" font-size="7.9" text-anchor="start" fill="#d0d0d0" stroke="#d0d0d0" stroke-width="1.1" stroke-linejoin="round" textLength="11.500000000000004" lengthAdjust="spacingAndGlyphs" font-weight="bold">g06</text>
<text x="38.8" y="483.09999999999997" font-size="7.9" text-anchor="start" fill="#111" stroke="#111" stroke-width="0" textLength="11.500000000000004" lengthAdjust="spacingAndGlyphs" font-weight="bold">g06</text>
<path d="M52.7 470.4 H58.4 V480.1 H52.7" stroke="#1a1a1a" stroke-width="1.0" fill="none" />
<rect x="216.8" y="409.0" width="15.299999999999983" height="6.8" stroke="#a0a0a0" stroke-width="1.0" fill="#d6d6d6" />
<polygon points="232.6,408.5 236.1,412.4 232.6,416.3" fill="#a0a0a0"/>
<text x="218.70000000000002" y="415.25" font-size="7.9" text-anchor="start" fill="#f0f0f0" stroke="#f0f0f0" stroke-width="1.1" stroke-linejoin="round" textLength="11.499999999999982" lengthAdjust="spacingAndGlyphs">g06</text>
<text x="218.70000000000002" y="415.25" font-size="7.9" text-anchor="start" fill="#8e8e8e" stroke="#8e8e8e" stroke-width="0.1" textLength="11.499999999999982" lengthAdjust="spacingAndGlyphs">g06</text>
<rect x="216.8" y="417.8" width="15.299999999999983" height="7.1" stroke="#111" stroke-width="1.2" fill="#a8a8a8" />
<polygon points="232.6,417.3 236.1,421.35 232.6,425.40000000000003" fill="#111"/>
<text x="218.70000000000002" y="424.2" font-size="7.9" text-anchor="start" fill="#d0d0d0" stroke="#d0d0d0" stroke-width="1.1" stroke-linejoin="round" textLength="11.499999999999982" lengthAdjust="spacingAndGlyphs" font-weight="bold">g04</text>
<text x="218.70000000000002" y="424.2" font-size="7.9" text-anchor="start" fill="#111" stroke="#111" stroke-width="0" textLength="11.499999999999982" lengthAdjust="spacingAndGlyphs" font-weight="bold">g04</text>
<path d="M216.3 412.4 H213.4 V421.2 H216.3" stroke="#1a1a1a" stroke-width="1.0" fill="none" />
<rect x="254.7" y="467.6" width="14.800000000000011" height="6.4" stroke="#a0a0a0" stroke-width="1.0" fill="#d6d6d6" />
<polygon points="254.2,467.1 250.7,470.8 254.2,474.5" fill="#a0a0a0"/>
<text x="256.59999999999997" y="473.65000000000003" font-size="7.9" text-anchor="start" fill="#f0f0f0" stroke="#f0f0f0" stroke-width="1.1" stroke-linejoin="round" textLength="11.00000000000001" lengthAdjust="spacingAndGlyphs">g05</text>
<text x="256.59999999999997" y="473.65000000000003" font-size="7.9" text-anchor="start" fill="#8e8e8e" stroke="#8e8e8e" stroke-width="0.1" textLength="11.00000000000001" lengthAdjust="spacingAndGlyphs">g05</text>
<rect x="254.7" y="476.7" width="14.800000000000011" height="7.1" stroke="#111" stroke-width="1.2" fill="#a8a8a8" />
<polygon points="254.2,476.2 250.7,480.25 254.2,484.3" fill="#111"/>
<text x="256.59999999999997" y="483.09999999999997" font-size="7.9" text-anchor="start" fill="#d0d0d0" stroke="#d0d0d0" stroke-width="1.1" stroke-linejoin="round" textLength="11.00000000000001" lengthAdjust="spacingAndGlyphs" font-weight="bold">g03</text>
<text x="256.59999999999997" y="483.09999999999997" font-size="7.9" text-anchor="start" fill="#111" stroke="#111" stroke-width="0" textLength="11.00000000000001" lengthAdjust="spacingAndGlyphs" font-weight="bold">g03</text>
<path d="M250.9 470.4 H247.3 V480 H250.9" stroke="#1a1a1a" stroke-width="1.0" fill="none" />
<text x="15.2" y="539" font-size="6.2" font-weight="bold" textLength="32.8" lengthAdjust="spacingAndGlyphs" fill="#000" stroke="#000" stroke-width="0.25">D0000115552</text>
<rect x="11.3" y="549.2" width="34.5" height="23.4" fill="#c9c9c9"/>
<rect x="46.7" y="549.2" width="159.0" height="23.4" fill="#c9c9c9"/>
<rect x="206.6" y="549.2" width="87.1" height="23.4" fill="#c9c9c9"/>
<rect x="294.6" y="549.2" width="35.1" height="23.4" fill="#c9c9c9"/>
<rect x="330.6" y="549.2" width="67.1" height="23.4" fill="#c9c9c9"/>
<rect x="398.6" y="549.2" width="67.3" height="23.4" fill="#c9c9c9"/>
<rect x="466.8" y="549.2" width="67.1" height="23.4" fill="#c9c9c9"/>
<rect x="534.8" y="549.2" width="68.0" height="23.4" fill="#c9c9c9"/>
<text x="332.20000000000005" y="559.7" font-size="9.7" font-weight="bold" textLength="49.8" lengthAdjust="spacingAndGlyphs" fill="#2e2e2e">VRC-W 600</text>
<text x="332.20000000000005" y="569.8" font-size="9.7" font-weight="bold" textLength="42.7" lengthAdjust="spacing" fill="#2e2e2e">Premium</text>
<text x="400.20000000000005" y="559.7" font-size="9.7" font-weight="bold" textLength="59.6" lengthAdjust="spacingAndGlyphs" fill="#2e2e2e">VRC-W 600 E</text>
<text x="400.20000000000005" y="569.8" font-size="9.7" font-weight="bold" textLength="42.7" lengthAdjust="spacing" fill="#2e2e2e">Premium</text>
<text x="468.40000000000003" y="559.7" font-size="9.7" font-weight="bold" textLength="49.8" lengthAdjust="spacingAndGlyphs" fill="#2e2e2e">VRC-W 450</text>
<text x="468.40000000000003" y="569.8" font-size="9.7" font-weight="bold" textLength="42.7" lengthAdjust="spacing" fill="#2e2e2e">Premium</text>
<text x="536.4" y="559.7" font-size="9.7" font-weight="bold" textLength="59.6" lengthAdjust="spacingAndGlyphs" fill="#2e2e2e">VRC-W 450 E</text>
<text x="536.4" y="569.8" font-size="9.7" font-weight="bold" textLength="42.7" lengthAdjust="spacing" fill="#2e2e2e">Premium</text>
<line x1="11.3" y1="586.5" x2="602.8" y2="586.5" stroke="#111" stroke-width="1.0" />
<line x1="11.3" y1="600.5" x2="602.8" y2="600.5" stroke="#111" stroke-width="1.0" />
<line x1="11.3" y1="614.5" x2="602.8" y2="614.5" stroke="#111" stroke-width="1.0" />
<line x1="11.3" y1="627.5" x2="602.8" y2="627.5" stroke="#111" stroke-width="1.0" />
<line x1="11.3" y1="641.5" x2="602.8" y2="641.5" stroke="#111" stroke-width="1.0" />
<line x1="11.3" y1="655.5" x2="602.8" y2="655.5" stroke="#111" stroke-width="1.0" />
<line x1="11.3" y1="668.5" x2="602.8" y2="668.5" stroke="#111" stroke-width="1.0" />
<text x="12.6" y="583.7" font-size="9.3" fill="#1a1a1a" stroke="#1a1a1a" stroke-width="0.3">b01</text>
<text x="48.3" y="583.7" font-size="10" textLength="121.5" lengthAdjust="spacingAndGlyphs" fill="#161616" stroke="#161616" stroke-width="0.25">Elektr. vezetékek átvezetése</text>
<text x="12.6" y="596.8" font-size="9.3" fill="#1a1a1a" stroke="#1a1a1a" stroke-width="0.3">d45</text>
<text x="48.3" y="596.8" font-size="10" textLength="104.5" lengthAdjust="spacingAndGlyphs" fill="#161616" stroke="#161616" stroke-width="0.25">Kondenzátum elvezetés</text>
<text x="207.2" y="596.8" font-size="10" textLength="33.5" lengthAdjust="spacingAndGlyphs" fill="#161616" stroke="#161616" stroke-width="0.25">Átmérő</text>
<text x="296.6" y="596.8" font-size="10" textLength="16.3" lengthAdjust="spacingAndGlyphs" fill="#161616" stroke="#161616" stroke-width="0.25">mm</text>
<text x="332.20000000000005" y="596.8" font-size="10.3" textLength="9.8" lengthAdjust="spacingAndGlyphs" fill="#111" stroke="#111" stroke-width="0.3">22</text>
<text x="400.20000000000005" y="596.8" font-size="10.3" textLength="9.8" lengthAdjust="spacingAndGlyphs" fill="#111" stroke="#111" stroke-width="0.3">22</text>
<text x="468.40000000000003" y="596.8" font-size="10.3" textLength="9.8" lengthAdjust="spacingAndGlyphs" fill="#111" stroke="#111" stroke-width="0.3">22</text>
<text x="536.4" y="596.8" font-size="10.3" textLength="9.8" lengthAdjust="spacingAndGlyphs" fill="#111" stroke="#111" stroke-width="0.3">22</text>
<text x="12.6" y="610.7" font-size="9.3" fill="#1a1a1a" stroke="#1a1a1a" stroke-width="0.3">g03</text>
<text x="48.3" y="610.7" font-size="10" textLength="55.0" lengthAdjust="spacingAndGlyphs" fill="#161616" stroke="#161616" stroke-width="0.25">Külső levegő</text>
<text x="207.2" y="610.7" font-size="10" textLength="33.5" lengthAdjust="spacingAndGlyphs" fill="#161616" stroke="#161616" stroke-width="0.25">Átmérő</text>
<text x="296.6" y="610.7" font-size="10" textLength="16.3" lengthAdjust="spacingAndGlyphs" fill="#161616" stroke="#161616" stroke-width="0.25">mm</text>
<text x="332.20000000000005" y="610.7" font-size="10.3" textLength="14.9" lengthAdjust="spacingAndGlyphs" fill="#111" stroke="#111" stroke-width="0.3">180</text>
<text x="400.20000000000005" y="610.7" font-size="10.3" textLength="14.9" lengthAdjust="spacingAndGlyphs" fill="#111" stroke="#111" stroke-width="0.3">180</text>
<text x="468.40000000000003" y="610.7" font-size="10.3" textLength="14.9" lengthAdjust="spacingAndGlyphs" fill="#111" stroke="#111" stroke-width="0.3">180</text>
<text x="536.4" y="610.7" font-size="10.3" textLength="14.9" lengthAdjust="spacingAndGlyphs" fill="#111" stroke="#111" stroke-width="0.3">180</text>
<text x="12.6" y="624.5" font-size="9.3" fill="#1a1a1a" stroke="#1a1a1a" stroke-width="0.3">g04</text>
<text x="48.3" y="624.5" font-size="10" textLength="61.0" lengthAdjust="spacingAndGlyphs" fill="#161616" stroke="#161616" stroke-width="0.25">Távozó levegő</text>
<text x="207.2" y="624.5" font-size="10" textLength="33.5" lengthAdjust="spacingAndGlyphs" fill="#161616" stroke="#161616" stroke-width="0.25">Átmérő</text>
<text x="296.6" y="624.5" font-size="10" textLength="16.3" lengthAdjust="spacingAndGlyphs" fill="#161616" stroke="#161616" stroke-width="0.25">mm</text>
<text x="332.20000000000005" y="624.5" font-size="10.3" textLength="14.9" lengthAdjust="spacingAndGlyphs" fill="#111" stroke="#111" stroke-width="0.3">180</text>
<text x="400.20000000000005" y="624.5" font-size="10.3" textLength="14.9" lengthAdjust="spacingAndGlyphs" fill="#111" stroke="#111" stroke-width="0.3">180</text>
<text x="468.40000000000003" y="624.5" font-size="10.3" textLength="14.9" lengthAdjust="spacingAndGlyphs" fill="#111" stroke="#111" stroke-width="0.3">180</text>
<text x="536.4" y="624.5" font-size="10.3" textLength="14.9" lengthAdjust="spacingAndGlyphs" fill="#111" stroke="#111" stroke-width="0.3">180</text>
<text x="12.6" y="638.0" font-size="9.3" fill="#1a1a1a" stroke="#1a1a1a" stroke-width="0.3">g05</text>
<text x="48.3" y="638.0" font-size="10" textLength="30.5" lengthAdjust="spacingAndGlyphs" fill="#161616" stroke="#161616" stroke-width="0.25">Kifúvás</text>
<text x="207.2" y="638.0" font-size="10" textLength="33.5" lengthAdjust="spacingAndGlyphs" fill="#161616" stroke="#161616" stroke-width="0.25">Átmérő</text>
<text x="296.6" y="638.0" font-size="10" textLength="16.3" lengthAdjust="spacingAndGlyphs" fill="#161616" stroke="#161616" stroke-width="0.25">mm</text>
<text x="332.20000000000005" y="638.0" font-size="10.3" textLength="14.9" lengthAdjust="spacingAndGlyphs" fill="#111" stroke="#111" stroke-width="0.3">180</text>
<text x="400.20000000000005" y="638.0" font-size="10.3" textLength="14.9" lengthAdjust="spacingAndGlyphs" fill="#111" stroke="#111" stroke-width="0.3">180</text>
<text x="468.40000000000003" y="638.0" font-size="10.3" textLength="14.9" lengthAdjust="spacingAndGlyphs" fill="#111" stroke="#111" stroke-width="0.3">180</text>
<text x="536.4" y="638.0" font-size="10.3" textLength="14.9" lengthAdjust="spacingAndGlyphs" fill="#111" stroke="#111" stroke-width="0.3">180</text>
<text x="12.6" y="651.7" font-size="9.3" fill="#1a1a1a" stroke="#1a1a1a" stroke-width="0.3">g06</text>
<text x="48.3" y="651.7" font-size="10" textLength="36.5" lengthAdjust="spacingAndGlyphs" fill="#161616" stroke="#161616" stroke-width="0.25">Beszívás</text>
<text x="207.2" y="651.7" font-size="10" textLength="33.5" lengthAdjust="spacingAndGlyphs" fill="#161616" stroke="#161616" stroke-width="0.25">Átmérő</text>
<text x="296.6" y="651.7" font-size="10" textLength="16.3" lengthAdjust="spacingAndGlyphs" fill="#161616" stroke="#161616" stroke-width="0.25">mm</text>
<text x="332.20000000000005" y="651.7" font-size="10.3" textLength="14.9" lengthAdjust="spacingAndGlyphs" fill="#111" stroke="#111" stroke-width="0.3">180</text>
<text x="400.20000000000005" y="651.7" font-size="10.3" textLength="14.9" lengthAdjust="spacingAndGlyphs" fill="#111" stroke="#111" stroke-width="0.3">180</text>
<text x="468.40000000000003" y="651.7" font-size="10.3" textLength="14.9" lengthAdjust="spacingAndGlyphs" fill="#111" stroke="#111" stroke-width="0.3">180</text>
<text x="536.4" y="651.7" font-size="10.3" textLength="14.9" lengthAdjust="spacingAndGlyphs" fill="#111" stroke="#111" stroke-width="0.3">180</text>
<text x="12.6" y="665.3" font-size="9.3" fill="#1a1a1a" stroke="#1a1a1a" stroke-width="0.3">i13</text>
<text x="48.3" y="665.3" font-size="10" textLength="76.0" lengthAdjust="spacingAndGlyphs" fill="#161616" stroke="#161616" stroke-width="0.25">Fali felfüggesztés</text>
</svg>
</body>
</html>
